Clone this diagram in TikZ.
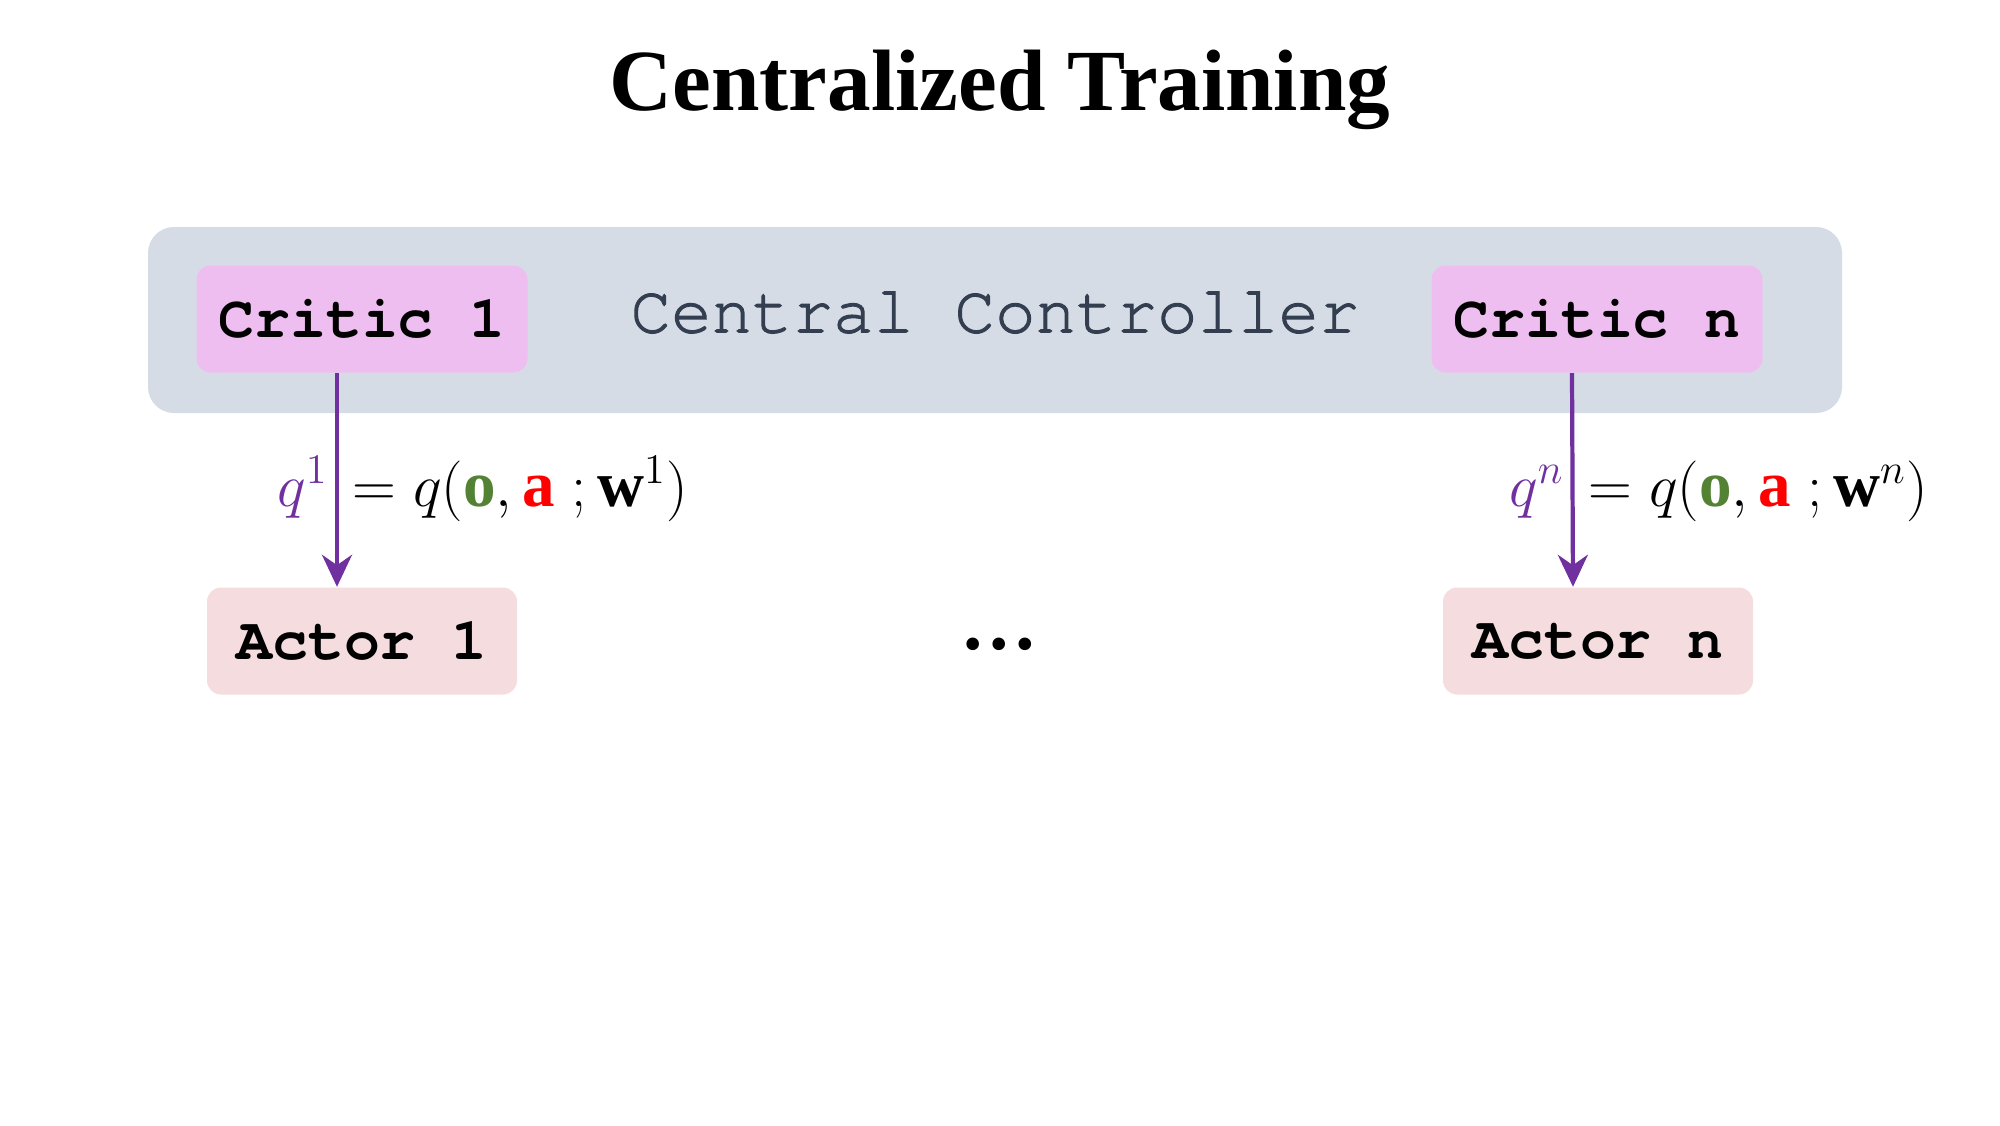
\documentclass[tikz,border=0pt]{standalone}
\usepackage{fontspec}
\setmainfont{Liberation Serif}
\setmonofont{TeX Gyre Cursor}
\newfontfamily\ctrlfont[FakeBold=1.6]{TeX Gyre Cursor}
\usetikzlibrary{arrows.meta}

\definecolor{ctrlfill}{HTML}{D6DCE5}
\definecolor{ctrltext}{HTML}{333F50}
\definecolor{criticfill}{HTML}{EEBEF0}
\definecolor{actorfill}{HTML}{F5DCDE}
\definecolor{qpurple}{HTML}{7030A0}
\definecolor{ogreen}{HTML}{548235}
\definecolor{ared}{HTML}{FF0000}

\begin{document}
\begin{tikzpicture}[
    ctrlbox/.style={fill=ctrlfill, rounded corners=0.26cm, minimum width=16.94cm, minimum height=1.86cm, text depth=0.16cm, text=ctrltext, font=\ctrlfont\fontsize{19.2}{22}\selectfont},
    criticbox/.style={fill=criticfill, rounded corners=0.14cm, minimum width=3.31cm, minimum height=1.07cm, font=\ttfamily\bfseries\fontsize{17}{20}\selectfont},
    actorbox/.style={fill=actorfill, rounded corners=0.14cm, minimum width=3.10cm, minimum height=1.07cm, font=\ttfamily\bfseries\fontsize{17}{20}\selectfont},
    qflow/.style={draw=qpurple, line width=1.2pt, -{Stealth[length=0.32cm, width=0.3cm]}},
    qlabel/.style={inner sep=0pt, font=\fontsize{18.5}{22}\selectfont}
  ]
  \useasboundingbox (0,0) rectangle (20,-11.25);

  % Title
  \node (title) at (10,-0.90) [font=\bfseries\fontsize{24.8}{30}\selectfont] {Centralized Training};

  % Controller and critics
  \node (ctrl) at (9.95,-3.20) [ctrlbox] {Central Controller};
  \node (critic1) at (3.62,-3.19) [criticbox] {Critic 1};
  \node (criticn) at (15.97,-3.19) [criticbox] {Critic n};

  % Actors (bottom row)
  \node (actor1) at (3.62,-6.41) [actorbox] {Actor 1};
  \node (dots) at (9.99,-6.44) [font=\bfseries\fontsize{22}{26}\selectfont] {…};
  \node (actorn) at (15.98,-6.41) [actorbox] {Actor n};

  % Edges (critic to actor)
  \draw[qflow] ([xshift=-0.25cm]critic1.south) -- ([xshift=-0.25cm]actor1.north);
  \draw[qflow] ([xshift=-0.25cm]criticn.south) -- ([xshift=-0.25cm]actorn.north);

  % Labels on the edges
  \node (q1) at (3.29,-5.06) [qlabel, anchor=base east] {$\color{qpurple}q^{1}$};
  \node (q1rhs) at (3.52,-5.06) [qlabel, anchor=base west] {$=q(\mathbf{\color{ogreen}o},\mathbf{\color{ared}a}\;;\mathbf{w}^{1})$};
  \node (qn) at (15.65,-5.06) [qlabel, anchor=base east] {$\color{qpurple}q^{n}$};
  \node (qnrhs) at (15.88,-5.06) [qlabel, anchor=base west] {$=q(\mathbf{\color{ogreen}o},\mathbf{\color{ared}a}\;;\mathbf{w}^{n})$};
\end{tikzpicture}
\end{document}
